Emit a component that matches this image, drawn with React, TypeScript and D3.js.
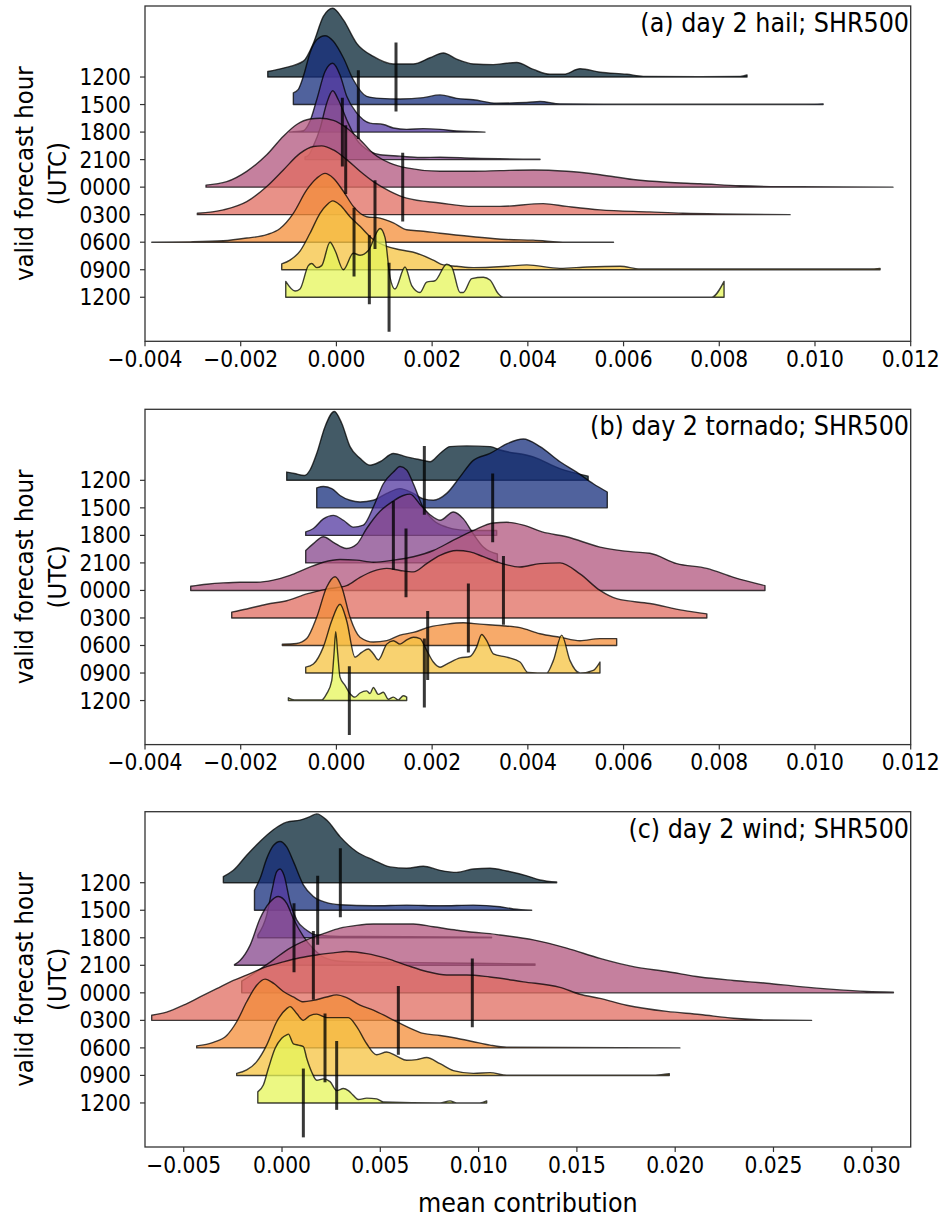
import React from "react";
import * as d3 from "d3";

// Ridgeline plots of mean SHR500 contribution by valid forecast hour.
// Each curve is a list of [contribution (x 1e-3), relative density (peak = 1)].

const hours = ["1200", "1500", "1800", "2100", "0000", "0300", "0600", "0900", "1200"];

// thermal-style palette, one colour per forecast hour
const ridgeColors = [
  "#042333", "#152d7c", "#5338a0", "#85468c", "#b1557d",
  "#e06c60", "#f48d38", "#f5c340", "#e5f65a",
];

const hailCurves: [number, number][][] = [
  [[-1.435, .08], [-1.109, .13], [-0.691, .23], [-0.482, .49], [-0.273, .88], [-0.078, 1], [0.145, .83], [0.423, .49], [0.771, .30], [1.19, .19], [1.607, .19], [1.956, .28], [2.234, .35], [2.513, .26], [2.861, .19], [3.279, .18], [3.558, .2], [3.767, .21], [4.115, .11], [4.463, .04], [4.75, .04], [5.09, .12], [5.51, .07], [6.07, .04], [6.41, .01], [7.6, .005], [8.44, .01], [8.58, .03]],
  [[-0.9, .17], [-0.796, .22], [-0.691, .41], [-0.552, .75], [-0.412, .94], [-0.238, 1], [-0.064, .92], [0.145, .68], [0.353, .36], [0.632, .12], [0.911, .09], [1.33, .08], [1.816, .10], [2.165, .14], [2.513, .09], [2.861, .07], [3.349, .02], [3.976, .03], [4.254, .045], [4.672, .01], [6.0, .005], [9.8, .005], [10.17, .01]],
  [[-0.984, 0], [-0.691, .02], [-0.552, .16], [-0.412, .47], [-0.238, .88], [-0.078, 1], [0.075, .83], [0.215, .52], [0.423, .28], [0.702, .13], [0.98, .11], [1.19, .06], [1.468, .04], [1.816, .05], [2.165, .04], [2.513, .015], [3.105, 0]],
  [[-0.656, .04], [-0.587, .06], [-0.482, .2], [-0.343, .45], [-0.203, .82], [-0.078, 1], [0.04, .87], [0.215, .58], [0.423, .29], [0.702, .12], [0.911, .07], [1.329, .05], [1.747, .03], [2.165, .035], [2.861, .02], [4.254, .005]],
  [[-2.725, .03], [-2.292, .08], [-1.874, .23], [-1.456, .47], [-1.109, .74], [-0.83, .91], [-0.552, .99], [-0.343, 1], [-0.064, .97], [0.215, .86], [0.493, .69], [0.771, .49], [1.12, .35], [1.468, .28], [2.165, .23], [2.861, .23], [3.418, .24], [4.115, .25], [4.81, .23], [5.51, .18], [6.2, .11], [6.9, .07], [7.6, .05], [8.43, .02], [9.68, .005], [11.63, 0]],
  [[-2.906, .02], [-2.363, .07], [-1.874, .19], [-1.456, .41], [-1.109, .65], [-0.761, .89], [-0.482, .99], [-0.308, 1], [-0.064, .94], [0.215, .8], [0.493, .63], [0.771, .48], [1.12, .34], [1.468, .24], [2.165, .17], [2.861, .12], [3.418, .12], [4.32, .16], [4.81, .12], [5.51, .07], [6.55, .04], [7.24, .02], [9.48, 0]],
  [[-3.859, 0], [-3.059, .005], [-2.363, .02], [-1.874, .06], [-1.456, .11], [-1.178, .2], [-0.9, .42], [-0.621, .76], [-0.412, .93], [-0.238, 1], [-0.064, .93], [0.145, .74], [0.353, .52], [0.632, .37], [0.911, .35], [1.19, .28], [1.468, .18], [1.816, .16], [2.165, .13], [2.861, .08], [3.558, .04], [4.11, .03], [4.81, 0], [5.79, 0]],
  [[-1.143, .085], [-0.97, .14], [-0.761, .27], [-0.552, .53], [-0.343, .82], [-0.203, .94], [-0.078, 1], [0.075, .94], [0.284, .77], [0.493, .63], [0.771, .44], [1.051, .34], [1.329, .29], [1.678, .24], [2.025, .14], [2.234, .07], [2.513, .05], [2.861, .03], [3.558, .05], [3.98, .07], [4.67, .02], [5.24, .04], [5.93, .05], [6.34, .01], [11.15, .01], [11.36, .02]],
  [[-1.059, .23], [-0.865, .09], [-0.761, .12], [-0.587, .46], [-0.516, .49], [-0.412, .43], [-0.308, .46], [-0.134, .8], [-0.029, .68], [0.145, .4], [0.353, .64], [0.493, .61], [0.667, .68], [0.911, 1], [1.015, .87], [1.12, .29], [1.224, .12], [1.433, .44], [1.573, .17], [1.747, .07], [1.886, .22], [2.06, .24], [2.305, .48], [2.409, .44], [2.583, .07], [2.652, .07], [2.827, .27], [3.07, .29], [3.209, .25], [3.383, .05], [3.487, 0], [7.84, 0], [8.1, .23]],
];
const hailMeans = [1.245, 0.458, 0.124, 0.194, 1.385, 0.806, 0.368, 0.688, 1.1];

const tornadoCurves: [number, number][][] = [
  [[-1.039, .12], [-0.879, .10], [-0.67, .07], [-0.552, .15], [-0.412, .39], [-0.238, .78], [-0.044, 1], [0.11, .83], [0.284, .49], [0.493, .32], [0.702, .22], [0.911, .27], [1.19, .39], [1.468, .34], [1.816, .29], [1.956, .27], [2.165, .39], [2.374, .49], [2.722, .5], [3.21, .49], [3.42, .44], [4.115, .34], [4.67, .17], [5.26, .06]],
  [[-0.412, .29], [-0.273, .31], [-0.098, .28], [0.075, .18], [0.284, .11], [0.493, .085], [0.771, .11], [1.051, .21], [1.329, .28], [1.607, .21], [1.816, .13], [2.025, .11], [2.304, .21], [2.583, .45], [2.861, .69], [3.21, .79], [3.558, .93], [3.906, 1], [4.254, .89], [4.672, .67], [5.02, .52], [5.368, .35], [5.66, .23]],
  [[-0.642, .05], [-0.482, .1], [-0.273, .24], [-0.064, .29], [0.145, .22], [0.353, .12], [0.562, .15], [0.771, .41], [0.98, .75], [1.19, .92], [1.329, 1], [1.468, .95], [1.607, .75], [1.816, .4], [2.025, .22], [2.304, .12], [2.583, .08], [2.861, .07], [3.349, .07]],
  [[-0.642, .18], [-0.482, .28], [-0.273, .38], [-0.064, .3], [0.214, .21], [0.423, .27], [0.632, .5], [0.911, .75], [1.19, .9], [1.398, .98], [1.538, 1], [1.747, .85], [1.956, .7], [2.165, .62], [2.444, .74], [2.653, .64], [2.861, .42], [3.07, .23], [3.364, .13]],
  [[-3.045, .06], [-2.711, .09], [-2.363, .11], [-2.015, .12], [-1.666, .12], [-1.318, .15], [-0.97, .22], [-0.621, .32], [-0.273, .41], [0.075, .45], [0.423, .44], [0.771, .41], [1.19, .44], [1.607, .49], [2.025, .58], [2.444, .73], [2.861, .87], [3.279, .98], [3.558, .99], [3.906, .95], [4.3, .85], [4.81, .78], [5.507, .63], [6.2, .56], [6.55, .54], [7.11, .39], [7.74, .32], [8.3, .19], [8.955, .07]],
  [[-2.188, .085], [-1.874, .13], [-1.456, .2], [-1.039, .25], [-0.621, .35], [-0.203, .42], [0.214, .47], [0.493, .59], [0.771, .68], [1.051, .72], [1.329, .69], [1.607, .67], [1.886, .79], [2.165, .91], [2.513, .98], [2.792, .96], [3.07, .89], [3.418, .8], [3.836, .74], [4.254, .79], [4.672, .8], [5.089, .64], [5.507, .40], [5.855, .28], [6.55, .21], [7.25, .11], [7.74, .06]],
  [[-1.13, .02], [-0.83, .03], [-0.621, .1], [-0.412, .41], [-0.203, .85], [-0.029, 1], [0.11, .85], [0.284, .41], [0.493, .12], [0.771, .05], [1.051, .07], [1.329, .15], [1.607, .19], [1.956, .27], [2.304, .31], [2.653, .33], [3.0, .31], [3.418, .29], [3.836, .26], [4.254, .17], [4.672, .12], [5.089, .07], [5.507, .1], [5.856, .1]],
  [[-0.642, .085], [-0.482, .13], [-0.273, .38], [-0.098, .76], [0.075, 1], [0.214, .76], [0.388, .23], [0.527, .3], [0.667, .35], [0.771, .28], [0.875, .19], [1.051, .42], [1.19, .47], [1.329, .42], [1.468, .48], [1.607, .52], [1.747, .5], [1.886, .33], [2.025, .16], [2.165, .085], [2.304, .13], [2.583, .22], [2.792, .24], [2.931, .38], [3.035, .56], [3.14, .47], [3.279, .28], [3.558, .23], [3.836, .16], [4.0, .01], [4.394, 0], [4.532, .18], [4.707, .55], [4.881, .18], [5.09, 0], [5.368, .04], [5.507, .16]],
  [[-1.004, .04], [-0.879, .01], [-0.307, .01], [-0.203, .1], [-0.098, .29], [-0.05, .68], [-0.015, 1], [0.027, .68], [0.075, .34], [0.18, .22], [0.284, .1], [0.388, .05], [0.493, .11], [0.632, .14], [0.702, .1], [0.771, .19], [0.875, .09], [0.98, .12], [1.085, .02], [1.19, .05], [1.294, .01], [1.398, .07], [1.468, .05]],
];
const tornadoMeans = [1.837, 3.265, 1.19, 1.454, 3.49, 2.757, 1.907, 1.837, 0.27];

const windCurves: [number, number][][] = [
  [[-2.984, .09], [-2.475, .18], [-1.797, .4], [-1.118, .6], [-0.441, .77], [0.238, .88], [0.916, .91], [1.424, .96], [1.763, 1], [2.272, .91], [2.95, .67], [3.798, .45], [4.646, .33], [5.494, .23], [6.341, .21], [7.189, .24], [8.037, .18], [8.885, .15], [9.733, .2], [10.58, .21], [11.43, .17], [12.45, .1], [13.12, .04], [13.97, .01]],
  [[-1.401, .29], [-1.118, .46], [-0.78, .75], [-0.441, .94], [-0.102, 1], [0.238, .92], [0.577, .71], [1.085, .37], [1.594, .2], [2.272, .11], [2.95, .08], [4.646, .065], [6.341, .075], [8.037, .065], [9.733, .075], [11.09, .05], [11.77, .02], [12.7, 0]],
  [[-1.231, .04], [-0.78, .33], [-0.526, .67], [-0.272, .96], [-0.102, 1], [0.102, .91], [0.407, .52], [0.746, .26], [1.255, .11], [1.763, .04], [2.95, .02], [6.341, .015], [10.66, .01]],
  [[-2.418, .01], [-2.136, .07], [-1.628, .29], [-1.119, .68], [-0.61, .92], [-0.187, 1], [0.238, .9], [0.577, .68], [1.085, .42], [1.594, .24], [2.103, .12], [2.95, .06], [4.646, .045], [6.341, .04], [9.733, .03], [12.87, .02]],
  [[-2.051, .17], [-1.288, .31], [-0.441, .48], [0.407, .65], [1.255, .77], [2.103, .86], [2.95, .94], [3.798, .98], [4.646, 1], [5.663, 1], [6.68, 1], [7.697, .96], [8.885, .91], [9.733, .88], [10.58, .86], [11.09, .84], [12.78, .77], [14.48, .65], [16.17, .5], [17.87, .38], [19.57, .31], [21.26, .23], [22.96, .18], [24.65, .14], [26.35, .09], [28.04, .05], [29.74, .02], [31.1, .01]],
  [[-6.63, .075], [-5.867, .12], [-5.019, .22], [-4.171, .34], [-3.323, .46], [-2.475, .58], [-1.628, .68], [-0.78, .78], [0.068, .85], [0.916, .91], [1.763, .95], [2.611, .98], [3.289, 1], [4.307, .97], [5.324, .9], [6.341, .8], [7.358, .71], [8.376, .66], [9.393, .66], [10.58, .63], [12.28, .56], [14.14, .48], [15.15, .38], [16.17, .32], [17.53, .22], [19.57, .13], [21.26, .085], [22.96, .03], [24.65, .005], [26.94, 0]],
  [[-4.341, .03], [-3.493, .08], [-2.815, .18], [-2.306, .38], [-1.797, .67], [-1.288, .91], [-0.864, 1], [-0.441, .94], [0.068, .82], [0.577, .74], [1.085, .67], [1.594, .69], [2.272, .74], [2.78, .77], [3.289, .73], [3.967, .62], [4.646, .55], [5.494, .43], [6.341, .31], [7.189, .21], [8.037, .18], [8.885, .14], [9.733, .09], [10.58, .04], [11.43, .01], [20.24, 0]],
  [[-2.306, .03], [-1.797, .08], [-1.288, .2], [-0.78, .44], [-0.272, .78], [0.238, .97], [0.407, 1], [0.746, .9], [1.085, .8], [1.424, .87], [1.763, .89], [2.272, .84], [2.78, .84], [3.374, .84], [3.798, .71], [4.307, .46], [4.815, .3], [5.324, .34], [5.833, .28], [6.341, .22], [6.85, .23], [7.358, .26], [8.037, .17], [8.715, .07], [9.733, .03], [10.58, .04], [11.43, .005], [19.0, .005], [19.7, .025]],
  [[-1.232, .16], [-0.95, .26], [-0.695, .5], [-0.356, .79], [-0.017, .94], [0.238, .99], [0.322, 1], [0.577, .86], [0.831, .84], [1.085, .82], [1.255, .65], [1.509, .45], [1.763, .33], [2.103, .35], [2.442, .31], [2.78, .18], [3.119, .21], [3.374, .18], [3.628, .11], [3.882, .05], [4.307, .07], [4.815, .06], [5.154, .015], [8.037, 0], [8.545, .03], [8.885, 0], [10.07, 0], [10.41, .03]],
];
const windMeans = [2.967, 1.814, 0.61, 1.594, 9.68, 5.917, 2.187, 2.78, 1.085];

const severeTicks = [-0.004, -0.002, 0, 0.002, 0.004, 0.006, 0.008, 0.010, 0.012];
const windTicks = [-0.005, 0, 0.005, 0.010, 0.015, 0.020, 0.025, 0.030];

const panels = [
  { title: "(a) day 2 hail; SHR500", curves: hailCurves, means: hailMeans, domain: [-0.004, 0.012], ticks: severeTicks, top: 6 },
  { title: "(b) day 2 tornado; SHR500", curves: tornadoCurves, means: tornadoMeans, domain: [-0.004, 0.012], ticks: severeTicks, top: 409.3 },
  { title: "(c) day 2 wind; SHR500", curves: windCurves, means: windMeans, domain: [-0.00697, 0.03198], ticks: windTicks, top: 811.7 },
];

const FONT = "'DejaVu Sans Condensed', 'DejaVu Sans', Verdana, sans-serif";
const textStyle = { fontStretch: "condensed" as const };
const LEFT = 145;
const RIGHT = 910.7;
const AX_H = 335.3;
const RIDGE_H = 2.5; // ridge peak height in row units
const MEAN_HALF = 1.25; // half-length of the mean marker in row units
const fmt = d3.format(".3f");

function Panel({ p, last }: { p: typeof panels[number]; last: boolean }) {
  const x = d3.scaleLinear().domain(p.domain).range([LEFT, RIGHT]);
  const y = d3.scaleLinear().domain([-2.58, 9.6]).range([p.top, p.top + AX_H]);
  const bottom = p.top + AX_H;
  const midY = p.top + AX_H / 2;
  return (
    <g>
      <defs>
        <clipPath id={`clip-${p.top}`}>
          <rect x={LEFT} y={p.top} width={RIGHT - LEFT} height={AX_H} />
        </clipPath>
      </defs>
      <g clipPath={`url(#clip-${p.top})`}>
        {p.curves.map((pts, i) => {
          const area = d3
            .area<[number, number]>()
            .x((d) => x(d[0] * 1e-3))
            .y0(y(i))
            .y1((d) => y(i - RIDGE_H * d[1]))
            .curve(d3.curveMonotoneX);
          return (
            <path
              key={i}
              d={area(pts) || ""}
              fill={ridgeColors[i]}
              fillOpacity={0.75}
              stroke="#000"
              strokeOpacity={0.75}
              strokeWidth={1.4}
              strokeLinejoin="round"
            />
          );
        })}
        {p.means.map((m, i) => (
          <line
            key={i}
            x1={x(m * 1e-3)}
            x2={x(m * 1e-3)}
            y1={y(i - MEAN_HALF)}
            y2={y(i + MEAN_HALF)}
            stroke="#000"
            strokeOpacity={0.78}
            strokeWidth={3}
          />
        ))}
      </g>
      <rect x={LEFT} y={p.top} width={RIGHT - LEFT} height={AX_H} fill="none" stroke="#333" strokeWidth={1.3} />
      {hours.map((h, i) => (
        <g key={i}>
          <line x1={LEFT - 5} x2={LEFT} y1={y(i)} y2={y(i)} stroke="#333" strokeWidth={1.2} />
          <text x={131} y={y(i) + 8} textAnchor="end" fontSize={22.5} fontFamily={FONT} style={textStyle} fill="#000">
            {h}
          </text>
        </g>
      ))}
      {p.ticks.map((t, i) => (
        <g key={i}>
          <line x1={x(t)} x2={x(t)} y1={bottom} y2={bottom + 5} stroke="#333" strokeWidth={1.2} />
          <text x={x(t)} y={bottom + 25.5} textAnchor="middle" fontSize={22.5} fontFamily={FONT} style={textStyle} fill="#000">
            {fmt(t)}
          </text>
        </g>
      ))}
      <text x={909} y={p.top + 26} textAnchor="end" fontSize={26.5} fontFamily={FONT} style={textStyle} fill="#000">
        {p.title}
      </text>
      <text transform={`translate(33,${midY}) rotate(-90)`} textAnchor="middle" fontSize={25.5} fontFamily={FONT} style={textStyle} fill="#000">
        valid forecast hour
      </text>
      <text transform={`translate(66,${midY}) rotate(-90)`} textAnchor="middle" fontSize={25.5} fontFamily={FONT} style={textStyle} fill="#000">
        (UTC)
      </text>
      {last && (
        <text x={(LEFT + RIGHT) / 2} y={1212} textAnchor="middle" fontSize={26.5} fontFamily={FONT} style={textStyle} fill="#000">
          mean contribution
        </text>
      )}
    </g>
  );
}

export default function App() {
  return (
    <svg
      width={950}
      height={1222}
      viewBox="0 0 950 1222"
      style={{ position: "absolute", left: 0, top: 0, background: "#fff" }}
    >
      <rect width={950} height={1222} fill="#fff" />
      {panels.map((p, i) => (
        <Panel key={i} p={p} last={i === panels.length - 1} />
      ))}
    </svg>
  );
}
